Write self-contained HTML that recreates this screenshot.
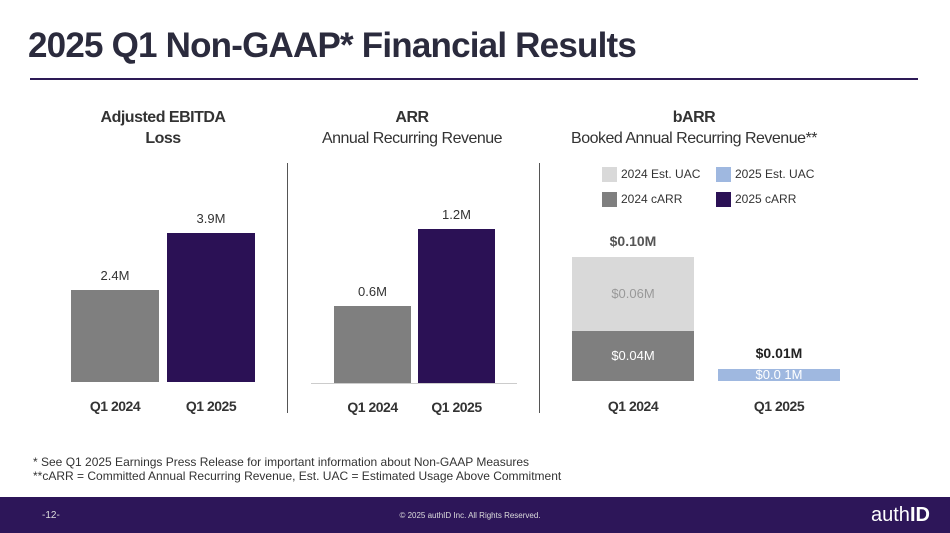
<!DOCTYPE html>
<html><head><meta charset="utf-8"><style>
body{margin:0;width:950px;height:533px;overflow:hidden;background:#fff;font-family:"Liberation Sans",sans-serif;position:relative}
.a{position:absolute}
.t{position:absolute;white-space:nowrap;transform:translateX(-50%)}
</style></head><body>
<div class="a" style="left:28px;top:26px;font-size:35px;font-weight:bold;color:#2b2b3d;letter-spacing:-0.8px">2025 Q1 Non-GAAP* Financial Results</div>
<div class="a" style="left:30px;top:78px;width:888px;height:2px;background:#2d1a56"></div>

<div class="t" style="left:163px;top:107px;font-size:16px;font-weight:bold;color:#333;text-align:center;line-height:21px;letter-spacing:-0.5px">Adjusted EBITDA<br>Loss</div>
<div class="t" style="left:412px;top:107px;font-size:16px;color:#333;text-align:center;line-height:21px;letter-spacing:-0.5px"><b>ARR</b><br>Annual Recurring Revenue</div>
<div class="t" style="left:694px;top:107px;font-size:16px;color:#333;text-align:center;line-height:21px;letter-spacing:-0.5px"><b>bARR</b><br>Booked Annual Recurring Revenue**</div>

<div class="a" style="left:287px;top:163px;width:1px;height:250px;background:#555"></div>
<div class="a" style="left:539px;top:163px;width:1px;height:250px;background:#555"></div>
<div class="a" style="left:311px;top:383px;width:206px;height:1px;background:#ccc"></div>

<div class="a" style="font-size:12px;color:#333">
<div class="a" style="left:602px;top:167px;width:15px;height:15px;background:#d9d9d9"></div><div class="a" style="left:621px;top:167px;white-space:nowrap">2024 Est. UAC</div>
<div class="a" style="left:716px;top:167px;width:15px;height:15px;background:#9fb8e0"></div><div class="a" style="left:735px;top:167px;white-space:nowrap">2025 Est. UAC</div>
<div class="a" style="left:602px;top:192px;width:15px;height:15px;background:#7f7f7f"></div><div class="a" style="left:621px;top:192px;white-space:nowrap">2024 cARR</div>
<div class="a" style="left:716px;top:192px;width:15px;height:15px;background:#2b1155"></div><div class="a" style="left:735px;top:192px;white-space:nowrap">2025 cARR</div>
</div>

<div id="charts"></div>

<div class="a" style="left:33px;top:455px;font-size:12px;color:#333">* See Q1 2025 Earnings Press Release for important information about Non-GAAP Measures</div>
<div class="a" style="left:33px;top:469px;font-size:12px;color:#333">**cARR = Committed Annual Recurring Revenue, Est. UAC = Estimated Usage Above Commitment</div>

<div class="a" style="left:0;top:497px;width:950px;height:36px;background:#2d1659"></div>
<div class="a" style="left:42px;top:510px;font-size:10px;color:#ddd">-12-</div>
<div class="t" style="left:470px;top:511px;font-size:8px;color:#ddd">© 2025 authID Inc. All Rights Reserved.</div>
<div class="a" style="left:871px;top:504px;font-size:20px;color:#fff">auth<b>ID</b></div>

<script>
const ebitdaCats=["Q1 2024","Q1 2025"];
const ebitdaVals=[2.4,3.9];
const ebitdaLabels=["2.4M","3.9M"];
const arrCats=["Q1 2024","Q1 2025"];
const arrVals=[0.6,1.2];
const arrLabels=["0.6M","1.2M"];
const barrCats=["Q1 2024","Q1 2025"];
const barrCarr=[0.04,0.0];
const barrUac=[0.06,0.01];
const barrTotals=["$0.10M","$0.01M"];
const barrCarrLabels=["$0.04M",""];
const barrUacLabels=["$0.06M","$0.0 1M"];

const root=document.getElementById('charts');
function box(x,y,w,h,c){const d=document.createElement('div');d.className='a';d.style.cssText=`left:${x}px;top:${y}px;width:${w}px;height:${h}px;background:${c}`;root.appendChild(d);return d;}
function txt(x,y,s,css){const d=document.createElement('div');d.className='t';d.textContent=s;d.style.cssText=`left:${x}px;top:${y}px;`+css;root.appendChild(d);return d;}

function simple(cats,vals,labels,xs,w,base,scale,name){
  vals.forEach((v,i)=>{
    const h=v*scale;
    const b=box(xs[i],base-h,w,h,i==0?'#7f7f7f':'#2b1155');
    
    
    const l=txt(xs[i]+w/2,base-h-22,labels[i],'font-size:13px;color:#333');
    
    
    const c=txt(xs[i]+w/2,base+16,cats[i],'font-size:14px;font-weight:bold;color:#333;letter-spacing:-0.5px');
    
    
  });
}
simple(ebitdaCats,ebitdaVals,ebitdaLabels,[71,167],88,382,38.3,'ebitda');
simple(arrCats,arrVals,arrLabels,[334,418],77,383,128,'arr');

const bBase=381,bScale=1240,bx=[572,718],bw=122;
barrCats.forEach((c,i)=>{
  const h1=barrCarr[i]*bScale,h2=barrUac[i]*bScale;
  if(h1>0){const b=box(bx[i],bBase-h1,bw,h1,'#7f7f7f');
    
    
    const l=txt(bx[i]+bw/2,bBase-h1/2-8,barrCarrLabels[i],'font-size:13px;color:#fff');
    
    }
  const b2=box(bx[i],bBase-h1-h2,bw,h2,i==0?'#d9d9d9':'#9fb8e0');
  
  
  const l2=txt(bx[i]+bw/2,bBase-h1-h2/2-8,barrUacLabels[i],'font-size:13px;color:'+(i==0?'#999':'#fff'));
  
  
  const t=txt(bx[i]+bw/2,bBase-h1-h2-24,barrTotals[i],'font-size:14px;font-weight:bold;color:'+(i==0?'#555':'#222'));
  
  
  const ct=txt(bx[i]+bw/2,bBase+17,c,'font-size:14px;font-weight:bold;color:#333;letter-spacing:-0.5px');
  
  
});
</script>
</body></html>
